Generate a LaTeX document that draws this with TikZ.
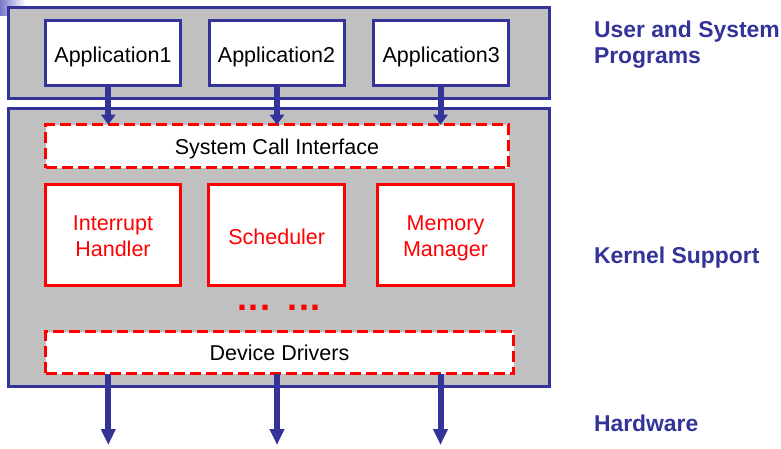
\documentclass[tikz,border=0pt]{standalone}
\usepackage{fontspec}
\setmainfont{Liberation Sans}
\usetikzlibrary{arrows.meta}
\definecolor{osblue}{RGB}{51,51,153}
\definecolor{osgray}{RGB}{192,192,192}
\definecolor{osred}{RGB}{255,0,0}
\newcommand\dropby[2]{\raisebox{-#1}[0pt][0pt]{#2}}
\newcommand\twolines[2]{\begin{tabular}[b]{@{}c@{}}#1\\#2\end{tabular}}
\tikzset{
  layerbox/.style={draw=osblue, line width=3pt, fill=osgray},
  appbox/.style={draw=osblue, line width=3pt, fill=white, inner sep=0pt, outer sep=0pt,
    minimum width=135pt, minimum height=65.3pt, font=\fontsize{21.5}{26.7}\selectfont},
  modbox/.style={draw=osred, line width=3pt, fill=white, inner sep=0pt, outer sep=0pt,
    minimum width=135.5pt, minimum height=100.4pt, text=osred,
    font=\fontsize{21.5}{26.7}\selectfont},
  ifacebox/.style={draw=osred, line width=3pt, fill=white, inner sep=0pt, outer sep=0pt,
    dash pattern=on 11pt off 5pt, font=\fontsize{21.5}{26.7}\selectfont},
  uparr/.style={draw=osblue, line width=6pt, -{Triangle[width=14pt,length=10pt]}},
  downarr/.style={draw=osblue, line width=6pt, -{Triangle[width=14pt,length=16pt]}},
  sidelabel/.style={text=osblue, inner sep=0pt, outer sep=0pt, align=left,
    font=\fontsize{22.9}{26}\selectfont\bfseries}
}
\begin{document}
\begin{tikzpicture}[x=1pt,y=-1pt]
\useasboundingbox (0,0) rectangle (781,449);
% slide corner decoration
\shade[left color={rgb,255:red,120;green,120;blue,200}, right color=white] (0,0) rectangle (26,16);
% layers
\draw[layerbox] (8.8,7.5) rectangle (549.2,98.5);
\draw[layerbox] (8.8,108.8) rectangle (549.2,386.8);
% applications
\node[appbox] (a1) at (113,53.2) {\dropby{9.1pt}{Application1}};
\node[appbox] (a2) at (276.5,53.2) {\dropby{9.1pt}{Application2}};
\node[appbox] (a3) at (441.2,53.2) {\dropby{9.1pt}{Application3}};
% kernel parts
\node[ifacebox, minimum width=463pt, minimum height=43pt] (sci) at (277,146.2) {\dropby{8.8pt}{System Call Interface}};
\node[modbox] (ih) at (113,235) {\dropby{21.7pt}{\twolines{Interrupt}{Handler}}};
\node[modbox] (sch) at (276.7,235) {\dropby{9pt}{Scheduler}};
\node[modbox] (mm) at (445.5,235) {\dropby{21.7pt}{\twolines{Memory}{Manager}}};
\node[text=osred, inner sep=0pt, anchor=base,
  font=\fontsize{36}{36}\selectfont\bfseries] (dots) at (279,310.3)
  {.\hspace{1.5pt}.\hspace{1.5pt}.\hspace{17pt}.\hspace{1.5pt}.\hspace{1.5pt}.};
\node[ifacebox, minimum width=468pt, minimum height=42pt] (dd) at (279.5,352.5) {\dropby{8.2pt}{Device Drivers}};
% hardware ends
\coordinate (h1) at (108.3,445);
\coordinate (h2) at (277,445);
\coordinate (h3) at (440.5,445);
% arrows
\draw[uparr] (a1.south -| h1) -- (sci.north -| h1);
\draw[uparr] (a2.south -| h2) -- (sci.north -| h2);
\draw[uparr] (a3.south -| h3) -- (sci.north -| h3);
\draw[downarr] (dd.south -| h1) -- (h1);
\draw[downarr] (dd.south -| h2) -- (h2);
\draw[downarr] (dd.south -| h3) -- (h3);
% side labels
\node[sidelabel, anchor=base west] (lu) at (594,63.3) {User and System\\Programs};
\node[sidelabel, anchor=base west] (lk) at (594,263.3) {Kernel Support};
\node[sidelabel, anchor=base west] (lh) at (594,431.7) {Hardware};
\end{tikzpicture}
\end{document}
